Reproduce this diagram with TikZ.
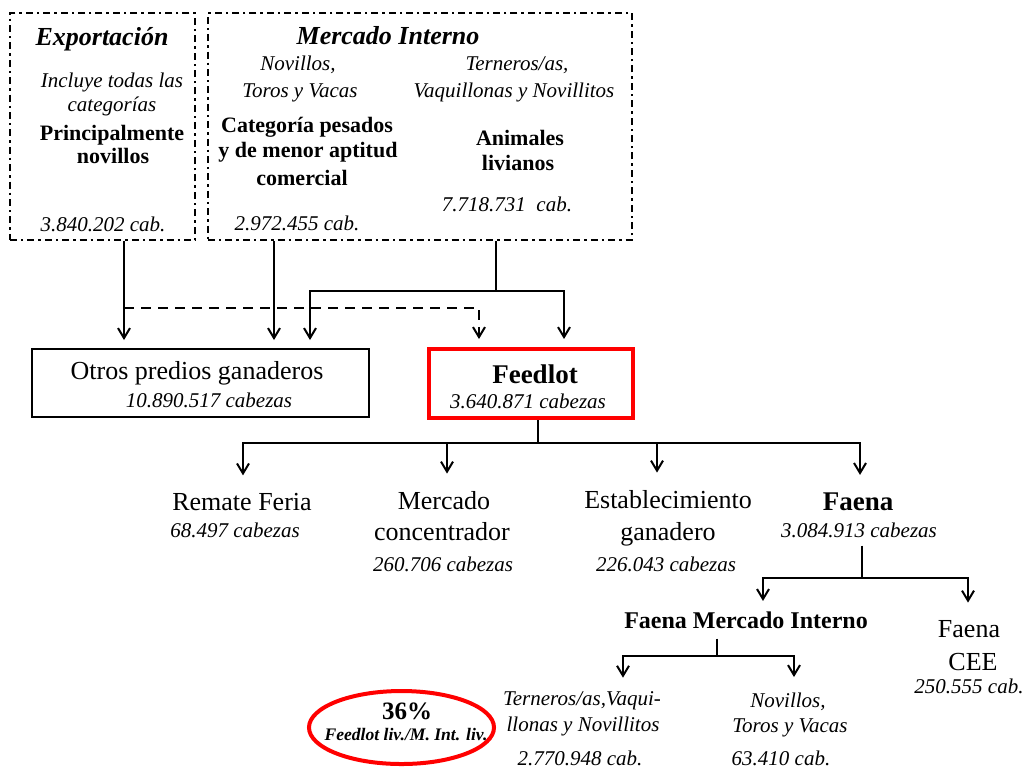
\documentclass[tikz,border=0pt]{standalone}
\usepackage{fontspec}
\setmainfont{Liberation Serif}
\usetikzlibrary{arrows.meta,shapes.geometric}

\tikzset{
  >={Straight Barb[length=5pt,width=6pt]},
  flow/.style={line width=1pt},
  dashflow/.style={line width=1pt, dash pattern=on 5pt off 3.5pt},
  topbox/.style={draw, line width=1pt, dash pattern=on 3.5pt off 2pt on 1.2pt off 2pt, inner sep=0pt},
  plainbox/.style={draw, line width=1pt, inner sep=0pt},
  redbox/.style={draw=red, line width=2pt, inner sep=0pt},
  toptitle/.style={anchor=base, inner sep=1pt, font=\fontsize{13}{15}\selectfont\bfseries\itshape},
  topit/.style={anchor=base, inner sep=1pt, font=\fontsize{10.5}{12}\selectfont\itshape},
  topbold/.style={anchor=base, inner sep=1pt, font=\fontsize{11}{13}\selectfont\bfseries},
  lbl/.style={anchor=base, inner sep=1pt, font=\fontsize{13}{15}\selectfont},
  lblbold/.style={anchor=base, inner sep=1pt, font=\fontsize{13.5}{15}\selectfont\bfseries},
  lblnum/.style={anchor=base, inner sep=1pt, font=\fontsize{10.5}{12}\selectfont\itshape},
}

\begin{document}
\begin{tikzpicture}[x=0.5pt,y=-0.5pt]
\useasboundingbox (0,0) rectangle (1026,768);

% top boxes
\node[topbox, minimum width=92.5pt, minimum height=113.5pt] (expo) at (102.5,126.5) {};
\node[topbox, minimum width=212pt, minimum height=113.5pt] (merc) at (420,126.5) {};

\node[toptitle] (expoT) at (102,45) {Exportación};
\node[topit] (expoA) at (112,87) {Incluye todas las};
\node[topit] (expoB) at (112,111) {categorías};
\node[topbold] (expoC) at (112,140) {Principalmente};
\node[topbold] (expoD) at (113,163) {novillos};
\node[topit] (expoN) at (103,231) {3.840.202 cab.};

\node[toptitle] (mercT) at (388,44) {Mercado Interno};
\node[topit] (mercA) at (298,70) {Novillos,};
\node[topit] (mercB) at (300,97) {Toros y Vacas};
\node[topit] (mercC) at (517,70) {Terneros/as,};
\node[topit] (mercD) at (514,97) {Vaquillonas y Novillitos};
\node[topbold] (mercE) at (307,132) {Categoría pesados};
\node[topbold] (mercF) at (308,157) {y de menor aptitud};
\node[topbold] (mercG) at (302,185) {comercial};
\node[topbold] (mercH) at (520,145) {Animales};
\node[topbold] (mercI) at (518,170) {livianos};
\node[topit] (mercN) at (297,230) {2.972.455 cab.};
\node[topit] (mercM) at (507,211) {7.718.731\ \ cab.};

% middle boxes
\node[plainbox, minimum width=168.5pt, minimum height=34pt] (otros) at (200.5,383) {};
\node[lbl] (otrosT) at (197,379) {Otros predios ganaderos};
\node[lblnum] (otrosN) at (209,407) {10.890.517 cabezas};

\node[redbox, minimum width=102pt, minimum height=34.5pt] (feed) at (531,383.5) {};
\node[lblbold] (feedT) at (535,383) {Feedlot};
\node[lblnum] (feedN) at (528,408) {3.640.871 cabezas};

% destinations
\node[lbl] (remate) at (242,510) {Remate Feria};
\node[lblnum] (remateN) at (235,537) {68.497 cabezas};
\node[lbl] (conc) at (444,509) {Mercado};
\node[lbl] (concB) at (442,540) {concentrador};
\node[lblnum] (concN) at (443,571) {260.706 cabezas};
\node[lbl] (estab) at (668,508) {Establecimiento};
\node[lbl] (estabB) at (668,540) {ganadero};
\node[lblnum] (estabN) at (666,571) {226.043 cabezas};
\node[lblbold] (faena) at (858,510) {Faena};
\node[lblnum] (faenaN) at (859,537) {3.084.913 cabezas};

\node[anchor=base, inner sep=1pt, font=\fontsize{12}{14}\selectfont\bfseries] (fmi) at (746,628) {Faena Mercado Interno};
\node[lbl] (cee) at (969,637) {Faena};
\node[lbl] (ceeB) at (973,670) {CEE};
\node[lblnum] (ceeN) at (969,693) {250.555 cab.};

\node[lblnum] (tern) at (582,705) {Terneros/as,Vaqui-};
\node[lblnum] (ternB) at (583,731) {llonas y Novillitos};
\node[lblnum] (ternN) at (580,765) {2.770.948 cab.};
\node[lblnum] (nov) at (788,707) {Novillos,};
\node[lblnum] (novB) at (790,732) {Toros y Vacas};
\node[lblnum] (novN) at (781,765) {63.410 cab.};

% ratio
\node[draw=red, line width=2pt, ellipse, inner sep=0pt, minimum width=92.5pt, minimum height=36.5pt] (ratio) at (401.5,727.5) {};
\node[anchor=base, inner sep=1pt, font=\fontsize{12.5}{14}\selectfont\bfseries] (ratioA) at (407,719) {36\%};
\node[anchor=base, inner sep=1pt, font=\fontsize{8.8}{10}\selectfont\bfseries\itshape] (ratioB) at (406,740) {Feedlot liv./M. Int. liv.};

% arrows top
\coordinate (a1) at (124,308);
\coordinate (a2) at (479,308);
\coordinate (a3) at (274,291);
\coordinate (a4) at (496,291);
\coordinate (a5) at (310,291);
\coordinate (a6) at (564,291);
\draw[flow,->,shorten >=4pt] (expo.south -| a1) -- (otros.north -| a1);
\draw[dashflow,->,shorten >=4pt] (a1) -- (a2) -- (feed.north -| a2);
\draw[flow,->,shorten >=4pt] (merc.south -| a3) -- (otros.north -| a3);
\draw[flow] (merc.south -| a4) -- (a4);
\draw[flow,<->,shorten <=4pt,shorten >=4pt] (otros.north -| a5) -- (a5) -- (a6) -- (feed.north -| a6);

% arrows feedlot
\coordinate (b0) at (538,443);
\coordinate (b1) at (243,443);
\coordinate (b2) at (447,443);
\coordinate (b3) at (657,443);
\coordinate (b4) at (860,443);
\draw[flow] (feed.south -| b0) -- (b0);
\draw[flow,<->,shorten <=7.5pt,shorten >=7.5pt] (remate.north -| b1) -- (b1) -- (b4) -- (faena.north -| b4);
\draw[flow,->,shorten >=7.5pt] (b2) -- (conc.north -| b2);
\draw[flow,->,shorten >=7.5pt] (b3) -- (estab.north -| b3);

% arrows faena
\coordinate (c0) at (862,578);
\coordinate (c1) at (763,578);
\coordinate (c2) at (968,578);
\draw[flow,shorten <=3pt] (faenaN.south -| c0) -- (c0);
\draw[flow,<->,shorten <=4pt,shorten >=7.5pt] (fmi.north -| c1) -- (c1) -- (c2) -- (cee.north -| c2);

\coordinate (d0) at (717,656);
\coordinate (d1) at (623,656);
\coordinate (d2) at (794,656);
\draw[flow,shorten <=4pt] (fmi.south -| d0) -- (d0);
\draw[flow,<->,shorten <=5.5pt,shorten >=6.5pt] (tern.north -| d1) -- (d1) -- (d2) -- (nov.north -| d2);

\end{tikzpicture}
\end{document}
